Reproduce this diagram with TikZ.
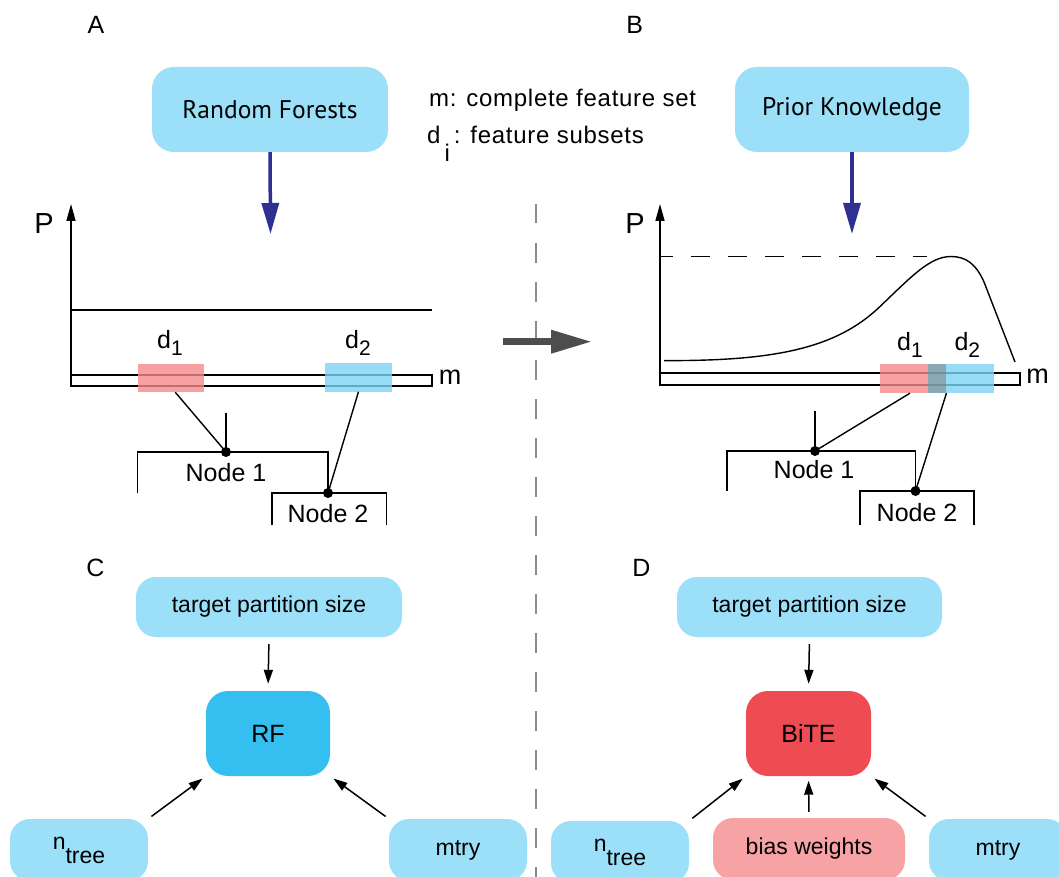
\documentclass[tikz,border=0pt]{standalone}
\usepackage{fontspec}
\setmainfont{Liberation Sans}
\newfontfamily\ptsans{PT Sans}
\usetikzlibrary{arrows.meta}
\definecolor{lblue}{HTML}{9CDFF8}
\definecolor{rfblue}{HTML}{35BEF0}
\definecolor{bitered}{HTML}{EF4B53}
\definecolor{biaspink}{HTML}{F7A3A6}
\definecolor{dpink}{HTML}{F68A8D}
\definecolor{dblue}{HTML}{7CD4F5}
\definecolor{dover}{HTML}{89A8B2}
\definecolor{darrblue}{HTML}{2E3192}
\definecolor{bigarrgrey}{HTML}{4D4D4D}
\definecolor{divgrey}{HTML}{8C8C8C}
\tikzset{
  lbox/.style={rectangle, rounded corners=20pt, fill=lblue, inner sep=0pt, font=\fontsize{23}{27}\selectfont},
  topbox/.style={rectangle, rounded corners=22pt, fill=lblue, inner sep=0pt, minimum height=85pt, font=\ptsans\fontsize{25.5}{30}\selectfont},
  corebox/.style={rectangle, rounded corners=22pt, inner sep=0pt, minimum width=124pt, minimum height=85pt, font=\fontsize{25}{29}\selectfont},
  arr/.style={line width=1.5pt, -{Triangle[length=14pt,width=9pt]}, shorten <=4pt, shorten >=4pt},
  axisarr/.style={line width=1.6pt, -{Triangle[length=17pt,width=9pt]}},
  bluearr/.style={darrblue, line width=3.5pt, -{Triangle[length=31pt,width=17pt]}},
  thinline/.style={line width=1.4pt},
  drect/.style={rectangle, inner sep=0pt, minimum width=66.5pt, minimum height=28.5pt, fill opacity=0.8},
  dotnode/.style={circle, fill=black, inner sep=0pt, minimum size=10pt},
  panellabel/.style={font=\fontsize{25}{29}\selectfont, inner sep=0pt},
  nodelabel/.style={font=\fontsize{25}{29}\selectfont, inner sep=0pt},
  dlabel/.style={anchor=base west, font=\fontsize{25}{29}\selectfont, inner sep=0pt},
  mlabel/.style={font=\fontsize{27}{31}\selectfont, inner sep=0pt},
  plabel/.style={font=\fontsize{29}{33}\selectfont, inner sep=0pt},
  legend/.style={anchor=base west, inner sep=0pt, font=\fontsize{24}{28}\selectfont\addfontfeature{LetterSpace=3}},
}
\begin{document}
\begin{tikzpicture}[x=1pt,y=-1pt]
\useasboundingbox (0,0) rectangle (1059,877);
\clip (0,0) rectangle (1059,877);
\fill[white] (0,0) rectangle (1059,877);

% panel labels
\node[panellabel] (labA) at (96,25) {A};
\node[panellabel] (labB) at (634.6,25) {B};
\node[panellabel] (labC) at (95.5,568) {C};
\node[panellabel] (labD) at (641.5,568) {D};

% divider
\draw[divgrey, line width=1.6pt, dash pattern=on 19.5pt off 19.5pt] (536,204) -- (536,877);

% top boxes
\node[topbox, minimum width=236pt] (rfbox) at (270,109.5) {Random Forests};
\node[topbox, minimum width=234pt] (pkbox) at (852,109.5) {Prior Knowledge};
\coordinate (rfarrow) at (270.5,234);
\coordinate (pkarrow) at (852,234);
\draw[bluearr] (rfbox.south) -- (rfarrow);
\draw[bluearr] (pkbox.south) -- (pkarrow);

% legend
\node[legend] (mtext) at (429,106.7) {m: complete feature set};
\node[legend] (dtext) at (427,144) {d\hspace{4pt}\raisebox{-18pt}{i}\hspace{4pt}: feature subsets};

% ---------- Panel A ----------
\coordinate (aorig) at (71,386);
\coordinate (atop) at (71,204);
\draw[axisarr] (aorig) -- (atop);
\node[plabel] (pA) at (44,223.5) {P};
\coordinate (hl1) at (71,310);
\coordinate (hl2) at (432,310);
\draw[thinline] (hl1) -- (hl2);
\draw[thinline] (71,375) rectangle (432,386);
\node[mlabel] (mA) at (450,377) {m};
\node[drect, fill=dpink] (dA1) at (170.75,377.75) {};
\node[drect, fill=dblue] (dA2) at (358.5,377.25) {};
\node[dlabel] (dA1l) at (157,348.6) {d\raisebox{-7pt}{\fontsize{21}{21}\selectfont 1}};
\node[dlabel] (dA2l) at (345,348.6) {d\raisebox{-7pt}{\fontsize{21}{21}\selectfont 2}};
\node[dotnode] (n1A) at (226,452) {};
\node[dotnode] (n2A) at (328,493) {};
\coordinate (stubA) at (226,413);
\draw[thinline] (stubA) -- (n1A.center);
\draw[thinline] ([xshift=4.5pt]dA1.south) -- (n1A.center);
\coordinate (brA1) at (137.5,493);
\draw[thinline] (brA1) |- (n1A.center) -| (n2A.center);
\draw[thinline] (dA2.south) -- (n2A.center);
\coordinate (brA2l) at (272,525);
\coordinate (brA2r) at (386.5,525);
\draw[thinline] (brA2l) |- (n2A.center) -| (brA2r);
\node[nodelabel] (t1A) at (226,473) {Node 1};
\node[nodelabel] (t2A) at (328,514) {Node 2};

% big grey arrow
\coordinate (ga1) at (503,341.7);
\coordinate (ga2) at (592,341.7);
\draw[bigarrgrey, line width=6.5pt, -{Triangle[length=41pt,width=22pt]}] (ga1) -- (ga2);

% ---------- Panel B ----------
\coordinate (borig) at (660,385);
\coordinate (btop) at (660,204);
\draw[axisarr] (borig) -- (btop);
\node[plabel] (pB) at (635,223.5) {P};
\coordinate (dl1) at (660,256.5);
\coordinate (dl2) at (927,256.5);
\draw[thinline, dash pattern=on 19pt off 18pt, dash phase=6pt] (dl1) -- (dl2);
\draw[thinline] (664,360.6) .. controls (770,361) and (835,350) .. (880,306.5)
  .. controls (912,276) and (930,256.5) .. (951,256.5)
  .. controls (966,256.5) and (976,264) .. (984,282) -- (1015,362);
\draw[thinline] (660,373) rectangle (1020,385);
\node[mlabel] (mB) at (1037.5,376) {m};
\node[drect, fill=dpink] (dB1) at (913,378.7) {};
\node[drect, fill=dblue] (dB2) at (961,378.7) {};
\fill[dover] (928,364.45) rectangle (946,392.95);
\draw[line width=1.4pt, dover!70!black, opacity=0.5] (928,373) -- (946,373) (928,385) -- (946,385);
\node[dlabel] (dB1l) at (897,350.5) {d\raisebox{-7pt}{\fontsize{21}{21}\selectfont 1}};
\node[dlabel] (dB2l) at (954.3,350.5) {d\raisebox{-7pt}{\fontsize{21}{21}\selectfont 2}};
\node[dotnode] (n1B) at (815,451) {};
\node[dotnode] (n2B) at (915.5,491) {};
\coordinate (stubB) at (815,411);
\draw[thinline] (stubB) -- (n1B.center);
\draw[thinline] ([xshift=-3pt]dB1.south) -- (n1B.center);
\coordinate (brB1) at (727,491);
\draw[thinline] (brB1) |- (n1B.center) -| (n2B.center);
\draw[thinline] (dB1.south east) -- (n2B.center);
\coordinate (brB2l) at (860,525);
\coordinate (brB2r) at (974,525);
\draw[thinline] (brB2l) |- (n2B.center) -| (brB2r);
\node[nodelabel] (t1B) at (814,470) {Node 1};
\node[nodelabel] (t2B) at (917,512.6) {Node 2};

% ---------- Panel C ----------
\node[lbox, minimum width=266pt, minimum height=60pt] (tpsC) at (269,607) {target partition size};
\node[corebox, fill=rfblue] (rf) at (268,733.5) {RF};
\node[lbox, minimum width=138pt, minimum height=62pt] (ntreeC) at (79,850) {\raisebox{7pt}{n}\raisebox{-7pt}{tree}};
\node[lbox, minimum width=138pt, minimum height=62pt] (mtryC) at (458,850) {mtry};
\draw[arr, shorten <=7pt, shorten >=7pt] (tpsC.south) -- (rf.north);
\draw[arr] (ntreeC.north east) -- (rf.south west);
\draw[arr] (mtryC.north west) -- (rf.south east);

% ---------- Panel D ----------
\node[lbox, minimum width=265pt, minimum height=60pt] (tpsD) at (809.5,607) {target partition size};
\node[corebox, fill=bitered, minimum width=125pt] (bite) at (808.5,733.5) {BiTE};
\node[lbox, minimum width=138pt, minimum height=62pt] (ntreeD) at (620,852) {\raisebox{7pt}{n}\raisebox{-7pt}{tree}};
\node[lbox, fill=biaspink, minimum width=192pt, minimum height=62pt] (bias) at (809,849) {bias weights};
\node[lbox, minimum width=138pt, minimum height=62pt] (mtryD) at (998,850) {mtry};
\draw[arr, shorten <=7pt, shorten >=7pt] (tpsD.south) -- (bite.north);
\draw[arr] (ntreeD.north east) -- (bite.south west);
\draw[arr, shorten <=6pt, shorten >=4.5pt] (bias.north) -- (bite.south);
\draw[arr] (mtryD.north west) -- (bite.south east);
\end{tikzpicture}
\end{document}
